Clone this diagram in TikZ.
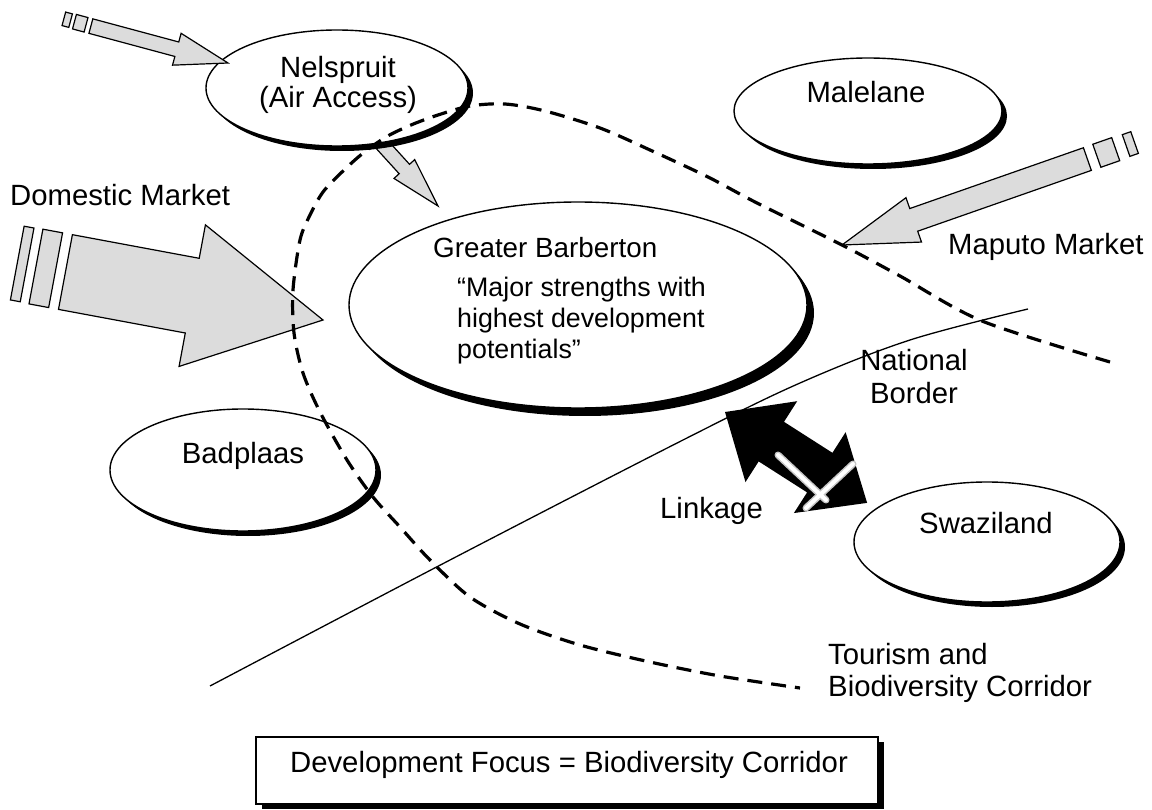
\documentclass[tikz,border=0pt]{standalone}
\usepackage{fontspec}
\setmainfont{Liberation Sans}
\usetikzlibrary{shapes.geometric,shadows}
\definecolor{arrowgray}{RGB}{220,220,220}

% block arrow with its tip at the local origin, pointing along +x
% #1 total length, #2 half shaft width, #3 half head width, #4 head length
\newcommand\blockarrowpath[4]{(0,0) -- (-#4,#3) -- (-#4,#2) -- (-#1,#2) -- (-#1,-#2) -- (-#4,-#2) -- (-#4,-#3) -- cycle}
% one broken piece of an arrow tail, from -#1 to -#2 along the axis
\newcommand\tailpiece[3]{(-#1,#3) rectangle (-#2,-#3)}

\begin{document}
\begin{tikzpicture}[x=1pt,y=-1pt,
  every node/.style={font=\fontsize{29.3}{32}\selectfont, inner sep=0pt},
  town/.style={ellipse, draw, line width=1.4pt, fill=white,
    general shadow={fill=black, shadow xshift=5pt, shadow yshift=-5pt}},
  txt/.style={anchor=base},
  txtleft/.style={anchor=base west},
  gbtitle/.style={anchor=base west, font=\fontsize{27.8}{31}\selectfont},
  gbquote/.style={anchor=base west, font=\fontsize{26.8}{31}\selectfont},
  grayarrow/.style={draw, line width=1.2pt, fill=arrowgray, line join=miter},
  corridor/.style={line width=3.2pt, dash pattern=on 15pt off 9pt},
  border/.style={line width=1.3pt},
]
\useasboundingbox (0,0) rectangle (1152,810);

% national border
\draw[border] plot[smooth, tension=0.55] coordinates
  {(210,686) (450,560) (683,440) (800,383) (910,340) (1028,309)};

% arrow from Nelspruit down to Greater Barberton (tail hidden under the ellipse)
\begin{scope}[shift={(438,206)}, rotate=-47.7]
  \draw[grayarrow] \blockarrowpath{100}{7}{14}{50};
\end{scope}

% places
\node[town, minimum width=262pt, minimum height=116pt] (nelspruit) at (337,88) {};
\node[town, minimum width=268pt, minimum height=106pt] (malelane) at (868,111) {};
\node[town, minimum width=458pt, minimum height=206pt,
  general shadow={fill=black, shadow xshift=7pt, shadow yshift=-8pt}] (barberton) at (578,305) {};
\node[town, minimum width=266pt, minimum height=122pt,
  general shadow={fill=black, shadow xshift=4pt, shadow yshift=-4pt}] (badplaas) at (243,470) {};
\node[town, minimum width=266pt, minimum height=120pt] (swaziland) at (987,542) {};

% air access arrow into Nelspruit
\begin{scope}[shift={(228,63)}, rotate=-15.06]
  \draw[grayarrow] \blockarrowpath{142}{7.5}{16.5}{53};
  \draw[grayarrow] \tailpiece{147}{159}{7.5};
  \draw[grayarrow] \tailpiece{163}{170}{7};
\end{scope}

% domestic market arrow
\begin{scope}[shift={(323,320)}, rotate=-10.55]
  \draw[grayarrow] \blockarrowpath{262}{38}{72}{133};
  \draw[grayarrow] \tailpiece{272}{292}{38};
  \draw[grayarrow] \tailpiece{301}{311}{37.5};
\end{scope}

% Maputo market arrow
\begin{scope}[shift={(842,245)}, rotate=-160.7]
  \draw[grayarrow] \blockarrowpath{260}{12}{23.5}{76};
  \draw[grayarrow] \tailpiece{270}{290}{12.2};
  \draw[grayarrow] \tailpiece{301}{310}{11.5};
\end{scope}

% tourism and biodiversity corridor
\draw[corridor] plot[smooth, tension=0.5] coordinates
  {(1110,362) (982,321) (900,276) (842,245) (757,203) (708,177) (650,150)
   (600,128) (545,111) (505,104) (470,106) (438,115) (411,125) (386,137)
   (362,154) (342,172) (323,192) (310,215) (300,240) (293,290) (294,333)
   (303,373) (320,412) (347,460) (373,497) (400,527) (430,560) (470,597)
   (520,624) (580,645) (650,662) (720,676) (800,688)};

% linkage double arrow, crossed out
\begin{scope}[shift={(725,412)}, rotate=-32.6]
  \fill (0,0) -- (55,48) -- (55,23.5) -- (112.5,23.5) -- (112.5,48) -- (168.7,0)
    -- (112.5,-48) -- (112.5,-23.5) -- (55,-23.5) -- (55,-48) -- cycle;
\end{scope}
\coordinate (xa1) at (778,455);
\coordinate (xa2) at (826,500);
\coordinate (xb1) at (853,464);
\coordinate (xb2) at (806,508);
\draw[gray!45, line width=7pt, line cap=round] (xa1) -- (xa2) (xb1) -- (xb2);
\draw[white, line width=4pt, line cap=round] (xa1) -- (xa2) (xb1) -- (xb2);

% texts
\node[txt] (t-nel1) at (338,78) {Nelspruit};
\node[txt] (t-nel2) at (338,108) {(Air Access)};
\node[txt] (t-mal) at (866,103) {Malelane};
\node[gbtitle] (t-gb) at (433,258) {Greater Barberton};
\node[gbquote] (t-gb1) at (457,297) {“Major strengths with};
\node[gbquote] (t-gb2) at (457,328) {highest development};
\node[gbquote] (t-gb3) at (457,359) {potentials”};
\node[txtleft] (t-dom) at (10,206) {Domestic Market};
\node[txtleft] (t-map) at (948,255) {Maputo Market};
\node[txt] (t-nat1) at (914,371) {National};
\node[txt] (t-nat2) at (914,403) {Border};
\node[txt] (t-bad) at (243,463) {Badplaas};
\node[txt] (t-swa) at (986,533) {Swaziland};
\node[txtleft] (t-link) at (660,518) {Linkage};
\node[txtleft] (t-tour1) at (828,664) {Tourism and};
\node[txtleft] (t-tour2) at (828,696) {Biodiversity Corridor};

% development focus box
\node[draw, line width=1.4pt, fill=white, minimum width=622pt, minimum height=67pt,
  general shadow={fill=black, shadow xshift=6pt, shadow yshift=-5pt}] (focus) at (567,770.5) {};
\node[txt] (t-focus) at (569,772) {Development Focus = Biodiversity Corridor};
\end{tikzpicture}
\end{document}
